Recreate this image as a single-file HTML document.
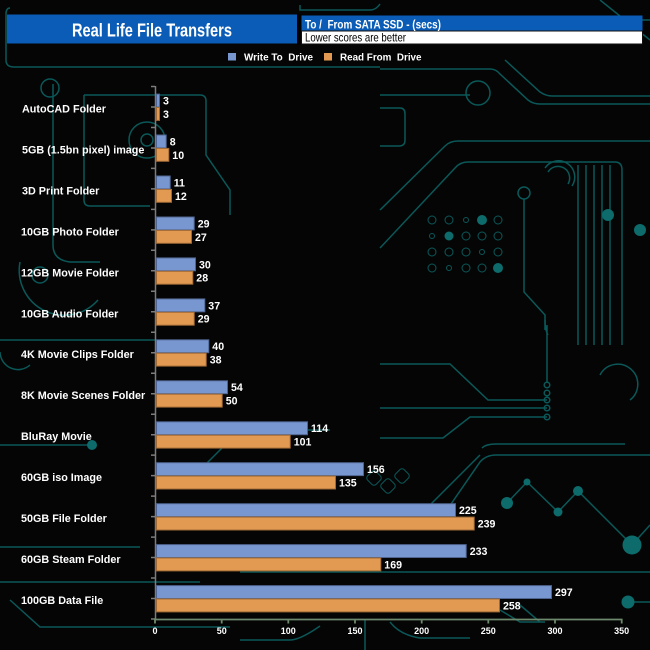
<!DOCTYPE html>
<html><head><meta charset="utf-8"><style>
html,body{margin:0;padding:0;background:#050505;}
svg{display:block;}
text{font-family:"Liberation Sans",Arial,sans-serif;}
</style></head><body>
<svg width="650" height="650" viewBox="0 0 650 650" xmlns="http://www.w3.org/2000/svg">
<rect width="650" height="650" fill="#050505"/>
<!-- background circuit traces -->
<g fill="none" stroke="#0b5859" stroke-width="1.5">
<path d="M10 8 Q6 8 6 14 L6 60 Q6 67 14 67 L380 67"/>
<path d="M300 5 L300 10 L370 10 Q376 10 380 4"/>
<path d="M380 69 L490 69 Q496 69 500 74 L528 100 Q533 104 540 104 L650 104"/>
<path d="M505 60 L540 92 Q546 96 552 96 L650 96"/>
<path d="M380 95 L470 95"/>
<circle cx="478" cy="93" r="12"/>
<path d="M380 108 L400 108 Q405 108 405 114 L405 140 Q405 146 399 146 L380 146"/>
<path d="M380 210 L445 146 Q450 141 458 141 L650 141"/>
<path d="M380 248 L455 168 Q460 162 468 162 L615 162 Q622 162 622 170 L622 345"/>
<path d="M578 165 L578 345 M586 165 L586 345 M594 165 L594 345 M602 165 L602 345 M610 165 L610 345"/>
<path d="M545 168 A16 16 0 0 1 572 186 M548 172 A11 11 0 0 1 568 184"/>
<circle cx="524" cy="193" r="6"/>
<path d="M524 199 L524 292 L545 315 L545 330"/>
<path d="M380 364 L450 364 L488 400 L547 400"/>
<path d="M380 408 L547 408"/>
<path d="M380 438 L443 438 L470 417 L547 417"/>
<circle cx="547" cy="385" r="2.8"/><circle cx="547" cy="393" r="2.8"/><circle cx="547" cy="400" r="2.8"/><circle cx="547" cy="408" r="2.8"/><circle cx="547" cy="417" r="2.8"/>
<path d="M545 320 Q545 330 548 335 M547 383 L547 325"/>
<path d="M440 520 L480 462 Q486 455 496 455 L650 455"/>
<path d="M482 448 Q486 444 496 444 L625 444"/>
<path d="M507 503 L527 482 L558 512 L578 491 L632 545 L650 525"/>
<path d="M628 602 L650 602"/>
<path d="M53 84 L53 245 Q53 260 70 262 L100 262"/>
<circle cx="50" cy="88" r="9"/>
<path d="M20 262 A45 45 0 0 0 98 300"/>
<circle cx="40" cy="275" r="8"/>
<path d="M84 95 L200 95 Q206 95 206 101 L206 155 L230 190 L230 215"/>
<path d="M84 95 L84 200 Q84 206 90 206 L150 206"/>
<circle cx="147" cy="140" r="18"/><circle cx="147" cy="140" r="6"/>
<path d="M0 340 L155 340"/>
<path d="M0 352 A18 18 0 0 0 30 365"/>
<path d="M0 445 L88 445"/>
<path d="M0 547 L140 547"/>
<path d="M0 582 L200 582"/>
<path d="M10 600 L40 627 L230 627"/>
<path d="M240 572 L650 572"/>
<path d="M365 620 L365 650 M390 622 Q400 635 420 638 L470 638"/>
<path d="M240 640 L290 640 Q300 640 320 626"/>
<path d="M500 610 L520 622 L545 622 M520 605 L540 622"/>
<path d="M200 470 L240 430 L330 430"/>
<path d="M480 455 L430 505"/>
<path d="M600 375 A20 20 0 1 1 630 400"/>
<path d="M620 20 L650 20 M600 0 L650 40"/>
</g>
<g fill="#0d6b6b">
<circle cx="92" cy="445" r="5"/>
<circle cx="482" cy="220" r="5"/><circle cx="449" cy="236" r="4.5"/><circle cx="498" cy="268" r="5"/>
<circle cx="507" cy="503" r="6"/><circle cx="527" cy="482" r="3.5"/><circle cx="558" cy="512" r="4.5"/><circle cx="578" cy="491" r="5"/>
<circle cx="632" cy="545" r="9.5"/><circle cx="628" cy="602" r="6.5"/>
<circle cx="608" cy="215" r="6"/><circle cx="640" cy="230" r="6"/>
</g>
<g fill="none" stroke="#0b5859" stroke-width="1">
<circle cx="432" cy="220" r="4"/><circle cx="449" cy="220" r="4"/><circle cx="466" cy="220" r="2.5"/><circle cx="498" cy="220" r="4"/>
<circle cx="432" cy="236" r="2.5"/><circle cx="466" cy="236" r="4"/><circle cx="482" cy="236" r="4"/><circle cx="498" cy="236" r="4"/>
<circle cx="432" cy="252" r="4"/><circle cx="449" cy="252" r="4"/><circle cx="466" cy="252" r="4"/><circle cx="482" cy="252" r="2.5"/><circle cx="498" cy="252" r="4"/>
<circle cx="432" cy="268" r="4"/><circle cx="449" cy="268" r="2.5"/><circle cx="466" cy="268" r="4"/><circle cx="482" cy="268" r="4"/>
<rect x="368" y="472" width="12" height="12" rx="3" transform="rotate(45 374 478)"/>
<rect x="382" y="480" width="12" height="12" rx="3" transform="rotate(45 388 486)"/>
<rect x="396" y="470" width="12" height="12" rx="3" transform="rotate(45 402 476)"/>
</g>

<!-- header -->
<rect x="7" y="14.5" width="290" height="29" fill="#0a5cb6"/>
<text x="72" y="36.7" font-size="18.5" font-weight="bold" fill="#ffffff" textLength="160" lengthAdjust="spacingAndGlyphs">Real Life File Transfers</text>
<rect x="297" y="14" width="4.5" height="31" fill="#000"/>
<rect x="301.5" y="15.5" width="341" height="15.5" fill="#0a5cb6"/>
<rect x="301.5" y="31" width="341" height="13" fill="#ffffff" stroke="#111" stroke-width="1"/>
<text x="305" y="28.3" font-size="12" font-weight="bold" fill="#ffffff" xml:space="preserve" textLength="136" lengthAdjust="spacingAndGlyphs">To /  From SATA SSD - (secs)</text>
<text x="305" y="41.3" font-size="12" fill="#000000" textLength="101" lengthAdjust="spacingAndGlyphs">Lower scores are better</text>

<!-- legend -->
<rect x="228" y="53" width="8" height="7.5" fill="#7896d0"/>
<text x="244" y="60.5" font-size="9.8" font-weight="bold" fill="#ffffff" xml:space="preserve" textLength="69" lengthAdjust="spacingAndGlyphs">Write To  Drive</text>
<rect x="324" y="53" width="8" height="7.5" fill="#e29a52"/>
<text x="340" y="60.5" font-size="9.8" font-weight="bold" fill="#ffffff" xml:space="preserve" textLength="81.5" lengthAdjust="spacingAndGlyphs">Read From  Drive</text>

<!-- axes -->
<g stroke="#7c7c7c" stroke-width="1.5">
<line x1="155.5" y1="86" x2="155.5" y2="620"/>
<path d="M151 86.5h4M151 107h4M151 127.5h4M151 148h4M151 168.4h4M151 188.9h4M151 209.4h4M151 229.9h4M151 250.3h4M151 270.8h4M151 291.3h4M151 311.8h4M151 332.3h4M151 352.7h4M151 373.2h4M151 393.7h4M151 414.2h4M151 434.7h4M151 455.1h4M151 475.6h4M151 496.1h4M151 516.6h4M151 537.1h4M151 557.5h4M151 578h4M151 598.5h4M151 619h4"/>
</g>
<g stroke="#6e8a6c" stroke-width="1.8">
<line x1="154" y1="619.5" x2="622.5" y2="619.5"/>
<path d="M155 619v4.5M221.7 619v4.5M288.3 619v4.5M355 619v4.5M421.7 619v4.5M488.3 619v4.5M555 619v4.5M621.7 619v4.5"/>
</g>
<g font-size="9" font-weight="bold" fill="#ffffff" text-anchor="middle">
<text x="155" y="634">0</text><text x="221.7" y="634">50</text><text x="288.3" y="634">100</text><text x="355" y="634">150</text><text x="421.7" y="634">200</text><text x="488.3" y="634">250</text><text x="555" y="634">300</text><text x="621.7" y="634">350</text>
</g>

<!-- category labels -->
<g font-size="10.8" font-weight="bold" fill="#ffffff">
<text x="22" y="112.5">AutoCAD Folder</text>
<text x="22" y="153.4">5GB (1.5bn pixel) image</text>
<text x="22" y="194.4">3D Print Folder</text>
<text x="21" y="235.4">10GB Photo Folder</text>
<text x="21" y="276.3">12GB Movie Folder</text>
<text x="21" y="317.3">10GB Audio Folder</text>
<text x="21" y="358.2">4K Movie Clips Folder</text>
<text x="21" y="399.2">8K Movie Scenes Folder</text>
<text x="21" y="440.2">BluRay Movie</text>
<text x="21" y="481.1">60GB iso Image</text>
<text x="21" y="522.1">50GB File Folder</text>
<text x="21" y="563">60GB Steam Folder</text>
<text x="21" y="604">100GB Data File</text>
</g>

<!-- bars -->
<g fill="#7896d0" stroke="#4f6590" stroke-width="1">
<rect x="156.5" y="94.1" width="3" height="12.9"/>
<rect x="156.5" y="135" width="9.7" height="12.9"/>
<rect x="156.5" y="176" width="13.7" height="12.9"/>
<rect x="156.5" y="217" width="37.7" height="12.9"/>
<rect x="156.5" y="257.9" width="39" height="12.9"/>
<rect x="156.5" y="298.9" width="48.3" height="12.9"/>
<rect x="156.5" y="339.8" width="52.3" height="12.9"/>
<rect x="156.5" y="380.8" width="71" height="12.9"/>
<rect x="156.5" y="421.8" width="151" height="12.9"/>
<rect x="156.5" y="462.7" width="207" height="12.9"/>
<rect x="156.5" y="503.7" width="299" height="12.9"/>
<rect x="156.5" y="544.6" width="309.7" height="12.9"/>
<rect x="156.5" y="585.6" width="395" height="12.9"/>
</g>
<g fill="#e29a52" stroke="#a06a36" stroke-width="1">
<rect x="156.5" y="107.5" width="3" height="12.9"/>
<rect x="156.5" y="148.4" width="12.3" height="12.9"/>
<rect x="156.5" y="189.4" width="15" height="12.9"/>
<rect x="156.5" y="230.4" width="35" height="12.9"/>
<rect x="156.5" y="271.3" width="36.3" height="12.9"/>
<rect x="156.5" y="312.3" width="37.7" height="12.9"/>
<rect x="156.5" y="353.2" width="49.7" height="12.9"/>
<rect x="156.5" y="394.2" width="65.7" height="12.9"/>
<rect x="156.5" y="435.2" width="133.7" height="12.9"/>
<rect x="156.5" y="476.1" width="179" height="12.9"/>
<rect x="156.5" y="517.1" width="317.7" height="12.9"/>
<rect x="156.5" y="558" width="224.3" height="12.9"/>
<rect x="156.5" y="599" width="343" height="12.9"/>
</g>

<!-- value labels -->
<g font-size="10.6" font-weight="bold" fill="#ffffff">
<text x="163" y="104.5">3</text><text x="163" y="117.9">3</text>
<text x="169.7" y="145.4">8</text><text x="172.3" y="158.8">10</text>
<text x="173.7" y="186.4">11</text><text x="175" y="199.8">12</text>
<text x="197.7" y="227.4">29</text><text x="195" y="240.8">27</text>
<text x="199" y="268.3">30</text><text x="196.3" y="281.7">28</text>
<text x="208.3" y="309.3">37</text><text x="197.7" y="322.7">29</text>
<text x="212.3" y="350.2">40</text><text x="209.7" y="363.6">38</text>
<text x="231" y="391.2">54</text><text x="225.7" y="404.6">50</text>
<text x="311" y="432.2">114</text><text x="293.7" y="445.6">101</text>
<text x="367" y="473.1">156</text><text x="339" y="486.5">135</text>
<text x="459" y="514.1">225</text><text x="477.7" y="527.5">239</text>
<text x="469.7" y="555">233</text><text x="384.3" y="568.4">169</text>
<text x="555" y="596">297</text><text x="503" y="609.4">258</text>
</g>
</svg>
</body></html>
